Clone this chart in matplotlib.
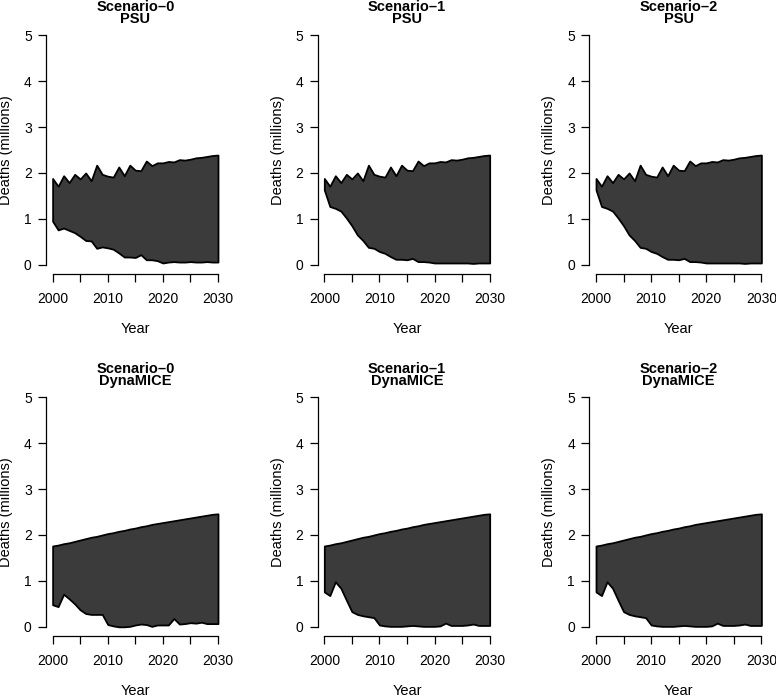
import matplotlib
matplotlib.use('Agg')
import matplotlib.pyplot as plt

plt.rcParams['font.family'] = ['Liberation Sans', 'DejaVu Sans']
plt.rcParams['font.size'] = 10

# data (deaths, millions)
years = list(range(2000, 2031))

psu_upper = [1.88, 1.71, 1.94, 1.79, 1.97, 1.87, 2.00, 1.83, 2.17, 1.97,
             1.93, 1.91, 2.13, 1.94, 2.17, 2.06, 2.05, 2.26, 2.16, 2.22,
             2.22, 2.25, 2.24, 2.29, 2.28, 2.30, 2.33, 2.34, 2.36, 2.38, 2.39]
psu_lower_s0 = [0.95, 0.76, 0.80, 0.75, 0.70, 0.62, 0.53, 0.52, 0.36, 0.39,
                0.37, 0.34, 0.26, 0.17, 0.17, 0.16, 0.22, 0.11, 0.11, 0.09,
                0.04, 0.06, 0.07, 0.06, 0.06, 0.07, 0.06, 0.06, 0.07, 0.06, 0.06]
psu_lower_s1 = [1.63, 1.27, 1.23, 1.17, 1.02, 0.85, 0.65, 0.53, 0.38, 0.36,
                0.29, 0.25, 0.18, 0.12, 0.12, 0.11, 0.14, 0.07, 0.07, 0.06,
                0.04, 0.04, 0.04, 0.04, 0.04, 0.04, 0.04, 0.03, 0.04, 0.04, 0.04]
psu_lower_s2 = [1.63, 1.27, 1.23, 1.17, 1.02, 0.85, 0.65, 0.53, 0.38, 0.36,
                0.29, 0.25, 0.18, 0.12, 0.12, 0.11, 0.14, 0.07, 0.07, 0.06,
                0.04, 0.04, 0.04, 0.04, 0.04, 0.04, 0.04, 0.03, 0.04, 0.04, 0.04]

dyna_upper = [1.76, 1.78, 1.81, 1.83, 1.86, 1.89, 1.92, 1.95, 1.97, 2.00,
              2.03, 2.05, 2.08, 2.10, 2.13, 2.15, 2.18, 2.20, 2.23, 2.25,
              2.27, 2.29, 2.31, 2.33, 2.35, 2.37, 2.39, 2.41, 2.43, 2.45, 2.46]
dyna_lower_s0 = [0.48, 0.44, 0.71, 0.61, 0.50, 0.37, 0.29, 0.27, 0.27, 0.27,
                 0.05, 0.02, 0.00, 0.00, 0.01, 0.04, 0.06, 0.05, 0.01, 0.04,
                 0.04, 0.04, 0.18, 0.06, 0.07, 0.09, 0.08, 0.10, 0.07, 0.07, 0.07]
dyna_lower_s1 = [0.76, 0.68, 0.98, 0.84, 0.58, 0.33, 0.27, 0.24, 0.22, 0.20,
                 0.04, 0.02, 0.01, 0.01, 0.01, 0.02, 0.03, 0.02, 0.01, 0.01,
                 0.01, 0.02, 0.08, 0.03, 0.03, 0.03, 0.04, 0.06, 0.03, 0.03, 0.03]
dyna_lower_s2 = [0.76, 0.68, 0.98, 0.84, 0.58, 0.33, 0.27, 0.24, 0.22, 0.20,
                 0.04, 0.02, 0.01, 0.01, 0.01, 0.02, 0.03, 0.02, 0.01, 0.01,
                 0.01, 0.02, 0.08, 0.03, 0.03, 0.03, 0.04, 0.06, 0.03, 0.03, 0.03]

scenarios = ['Scenario\u20130', 'Scenario\u20131', 'Scenario\u20132']
models = ['PSU', 'DynaMICE']
uppers = [psu_upper, dyna_upper]
lowers = [[psu_lower_s0, psu_lower_s1, psu_lower_s2],
          [dyna_lower_s0, dyna_lower_s1, dyna_lower_s2]]

W, H = 776, 698
fig = plt.figure(figsize=(W / 100, H / 100), dpi=100)

lefts = [46, 317.7, 589.4]
tops = [26, 388]
pw, ph = 178.6, 248

for r in range(2):
    for c in range(3):
        ax = fig.add_axes([lefts[c] / W, 1 - (tops[r] + ph) / H, pw / W, ph / H])
        ax.fill_between(years, lowers[r][c], uppers[r], facecolor='#3b3b3b',
                        edgecolor='black', linewidth=1.3)
        ax.set_xlim(1998.8, 2031.2)
        ax.set_ylim(-0.2, 5.2)
        ax.set_xticks(range(2000, 2031, 5))
        ax.set_xticklabels(['2000', '', '2010', '', '2020', '', '2030'])
        ax.set_yticks(range(6))
        for s in ['top', 'right']:
            ax.spines[s].set_visible(False)
        ax.spines['left'].set_bounds(0, 5)
        ax.spines['bottom'].set_bounds(2000, 2030)
        for s in ['left', 'bottom']:
            ax.spines[s].set_linewidth(0.9)
        ax.tick_params(axis='both', length=5.8, width=0.9, labelsize=10)
        ax.tick_params(axis='x', pad=7)
        ax.tick_params(axis='y', pad=4.5)
        ax.set_title(scenarios[c] + '\n' + models[r], fontweight='bold',
                     fontsize=10.5, pad=1, linespacing=0.82)
        ax.set_xlabel('Year', fontsize=10.5)
        ax.set_ylabel('Deaths (millions)', fontsize=10.5)
        ax.xaxis.set_label_coords(0.5, -48 / ph)
        ax.yaxis.set_label_coords(-33 / pw, 0.5)

fig.savefig('out.png', dpi=100)
